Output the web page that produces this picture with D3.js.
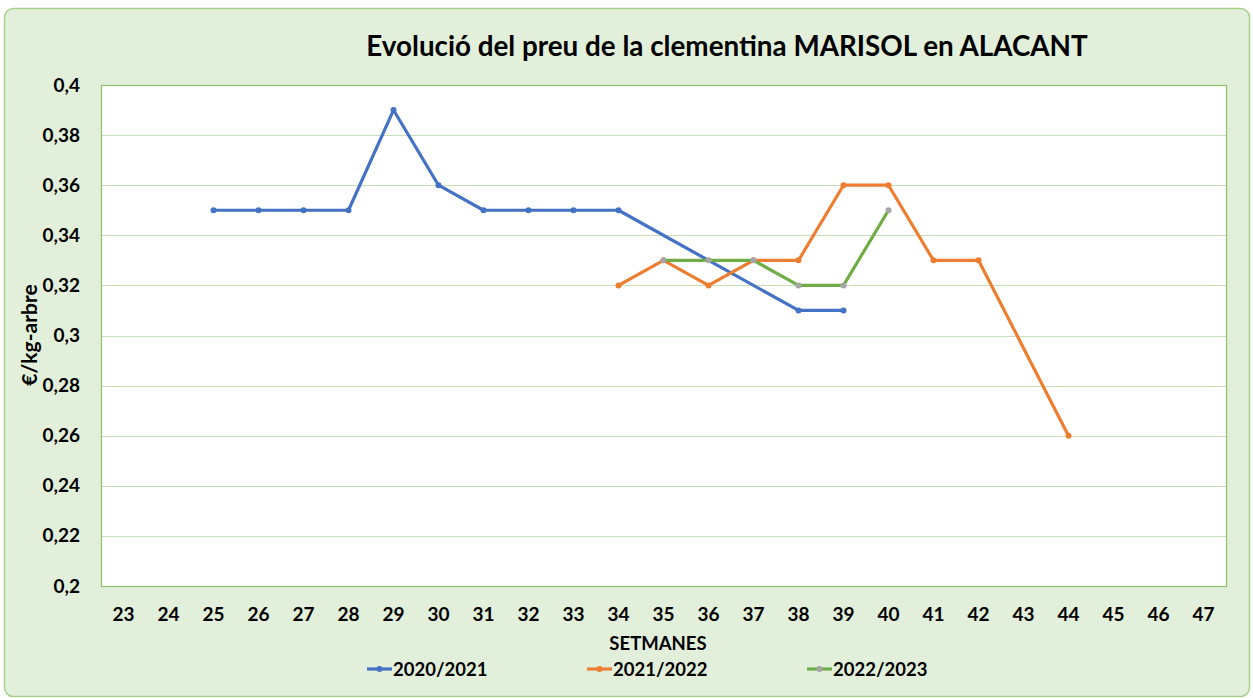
<!DOCTYPE html>
<html>
<head>
<meta charset="utf-8">
<script src="https://cdn.jsdelivr.net/npm/d3@7"></script>
<style>
  body { margin: 0; background: #fff; }
  text { font-family: Lato, "Open Sans", sans-serif; font-weight: bold; fill: #000; }
</style>
</head>
<body>
<script>
//Data
    const weeks = d3.range(23, 48).map(String);
    const yTicks = [0.2, 0.22, 0.24, 0.26, 0.28, 0.3, 0.32, 0.34, 0.36, 0.38, 0.4];

    const weeks2021 = ["25","26","27","28","29","30","31","32","33","34","35","36","37","38","39"];
    const vals2021  = [0.35, 0.35, 0.35, 0.35, 0.39, 0.36, 0.35, 0.35, 0.35, 0.35, null, null, null, 0.31, 0.31];

    const weeks2122 = ["34","35","36","37","38","39","40","41","42","43","44"];
    const vals2122  = [0.32, 0.33, 0.32, 0.33, 0.33, 0.36, 0.36, 0.33, 0.33, null, 0.26];

    const weeks2223 = ["35","36","37","38","39","40"];
    const vals2223  = [0.33, 0.33, 0.33, 0.32, 0.32, 0.35];

    const series = [
        {name: "2020/2021", weeks: weeks2021, vals: vals2021, color: "#4472C4", marker: "#4472C4"},
        {name: "2021/2022", weeks: weeks2122, vals: vals2122, color: "#ED7D31", marker: "#ED7D31"},
        {name: "2022/2023", weeks: weeks2223, vals: vals2223, color: "#70AD47", marker: "#A5A5A5"}
    ];

//Layout
    const width = 1253, height = 698;
    const plot = {left: 101, right: 1226, top: 85, bottom: 586};

    const svg = d3.select("body").append("svg")
        .attr("width", width)
        .attr("height", height);

    svg.append("rect")
        .attr("x", 4.5).attr("y", 8.5)
        .attr("width", 1245).attr("height", 688)
        .attr("rx", 9)
        .attr("fill", "#E2EFDA")
        .attr("stroke", "#A9D18E")
        .attr("stroke-width", 1.5);

    svg.append("rect")
        .attr("x", plot.left).attr("y", plot.top)
        .attr("width", plot.right - plot.left).attr("height", plot.bottom - plot.top)
        .attr("fill", "#fff");

//Scales
    const xScale = d3.scaleBand()
        .domain(weeks)
        .range([plot.left, plot.right])
        .padding(0);

    const yScale = d3.scaleLinear()
        .domain([0.2, 0.4])
        .range([plot.bottom, plot.top]);

    const xc = w => xScale(w) + xScale.bandwidth() / 2;

//Gridlines
    svg.append("g")
        .selectAll("line")
        .data(yTicks.slice(1, -1))
        .enter().append("line")
        .attr("x1", plot.left).attr("x2", plot.right)
        .attr("y1", d => Math.round(yScale(d)) + 0.5)
        .attr("y2", d => Math.round(yScale(d)) + 0.5)
        .attr("stroke", "#C5E0B4")
        .attr("stroke-width", 1.2);

    svg.append("rect")
        .attr("x", plot.left + 0.5).attr("y", plot.top + 0.5)
        .attr("width", plot.right - plot.left).attr("height", plot.bottom - plot.top)
        .attr("fill", "none")
        .attr("stroke", "#8CC168")
        .attr("stroke-width", 1.2);

//Axes
    const leftAxis = d3.axisLeft(yScale)
        .tickValues(yTicks)
        .tickSize(0)
        .tickPadding(21)
        .tickFormat(d => String(+d.toFixed(2)).replace(".", ","));

    const gy = svg.append("g")
        .attr("transform", "translate(" + plot.left + ",0)")
        .call(leftAxis);
    gy.select(".domain").remove();
    gy.selectAll("text").style("font-size", "19px").style("font-family", null);

    const bottomAxis = d3.axisBottom(xScale)
        .tickSize(0)
        .tickPadding(22);

    const gx = svg.append("g")
        .attr("transform", "translate(0," + plot.bottom + ")")
        .call(bottomAxis);
    gx.select(".domain").remove();
    gx.selectAll("text").style("font-size", "19px").style("font-family", null);

//Lines
    const line = d3.line()
        .x(d => xc(d.w))
        .y(d => yScale(d.v));

    series.forEach(s => {
        const pts = s.weeks.map((w, i) => ({w: w, v: s.vals[i]})).filter(d => d.v != null);

        svg.append("path")
            .datum(pts)
            .attr("d", line)
            .attr("fill", "none")
            .attr("stroke", s.color)
            .attr("stroke-width", 3.2)
            .attr("stroke-linejoin", "round");

        svg.append("g")
            .selectAll("circle")
            .data(pts)
            .enter().append("circle")
            .attr("cx", d => xc(d.w))
            .attr("cy", d => yScale(d.v))
            .attr("r", 3)
            .attr("fill", s.marker);
    });

//Titles
    svg.append("text")
        .attr("x", 727).attr("y", 56)
        .attr("text-anchor", "middle")
        .style("font-size", "27.8px")
        .text("Evolució del preu de la clementina MARISOL en ALACANT");

    svg.append("text")
        .attr("transform", "translate(37,335) rotate(-90)")
        .attr("text-anchor", "middle")
        .style("font-size", "21px")
        .text("€/kg-arbre");

    svg.append("text")
        .attr("x", 658).attr("y", 650)
        .attr("text-anchor", "middle")
        .style("font-size", "18.5px")
        .text("SETMANES");

//Legend
    const legendX = [367, 587, 807];
    const legend = svg.append("g")
        .selectAll("g")
        .data(series)
        .enter().append("g")
        .attr("transform", (d, i) => "translate(" + legendX[i] + ",669)");

    legend.append("line")
        .attr("x1", 0).attr("x2", 25)
        .attr("stroke", d => d.color)
        .attr("stroke-width", 3.2);

    legend.append("circle")
        .attr("cx", 12.5).attr("r", 3)
        .attr("fill", d => d.marker);

    legend.append("text")
        .attr("x", 26).attr("y", 7)
        .style("font-size", "18.5px")
        .text(d => d.name);
</script>
</body>
</html>
